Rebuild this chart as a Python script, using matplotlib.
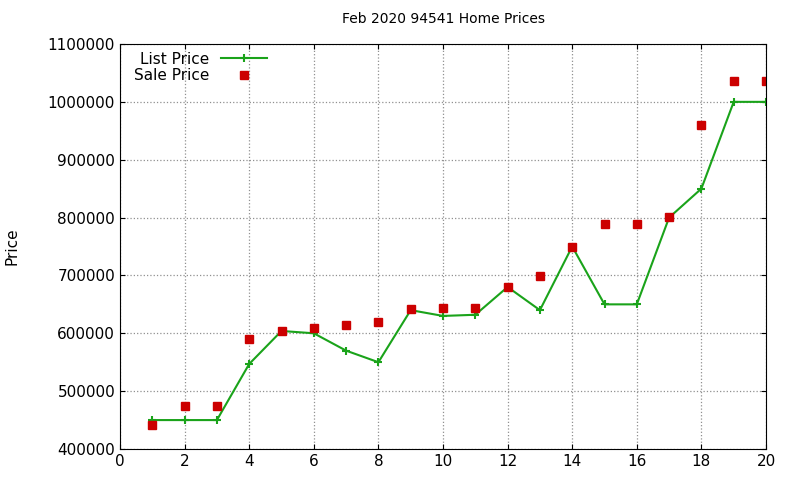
import matplotlib
matplotlib.use("Agg")
import matplotlib.pyplot as plt

x = list(range(1, 21))
list_price = [450000, 450000, 450000, 547000, 604000, 600000, 570000, 550000, 640000, 630000,
              632000, 680000, 640000, 750000, 650000, 650000, 800000, 850000, 1000000, 1000000]
sale_price = [441000, 474000, 474000, 590000, 604000, 609000, 614000, 619000, 642000, 644000,
              644000, 680000, 699000, 749000, 789000, 789000, 801000, 960000, 1036000, 1036000]
title = "Feb 2020 94541 Home Prices"

fig = plt.figure(figsize=(8, 4.8), dpi=100)
ax = fig.add_axes([120/800, 1-449/480, 646/800, 405/480])
ax.plot(x, list_price, color="#1aa31a", lw=1.5, marker="+", ms=6, mew=1.5, label="List Price")
ax.plot(x, sale_price, ls="none", marker="s", ms=5.5, color="#cc0000", label="Sale Price")
ax.set_xlim(0, 20)
ax.set_ylim(400000, 1100000)
ax.set_xticks(range(0, 21, 2))
ax.set_yticks(range(400000, 1100001, 100000))
ax.ticklabel_format(style="plain", axis="y")
ax.grid(True, color="#909090", ls=":", lw=0.9)
ax.tick_params(direction="in", labelsize=11, top=True, right=True)
ax.set_ylabel("Price", fontsize=11, labelpad=20)
ax.set_title(title, fontsize=10, pad=15)
leg = ax.legend(loc="upper left", frameon=False, fontsize=11, markerfirst=False,
                bbox_to_anchor=(0.0, 1.015), handlelength=3, labelspacing=0.1)
for t in leg.get_texts():
    t.set_ha("right")
fig.savefig("out.png", dpi=100)
